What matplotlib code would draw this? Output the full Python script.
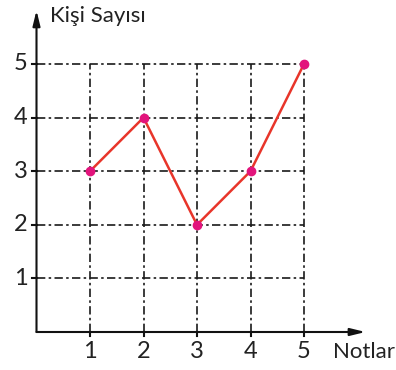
import matplotlib.pyplot as plt

notlar = [1, 2, 3, 4, 5]
kisi_sayisi = [3, 4, 2, 3, 5]
x_ticks = [1, 2, 3, 4, 5]
y_ticks = [1, 2, 3, 4, 5]

plt.rcParams['font.family'] = ['Lato', 'DejaVu Sans']

fig = plt.figure(figsize=(3.96, 3.70), dpi=100)
ax = fig.add_axes([0, 0, 1, 1])
ax.set_xlim(-36.5 / 53.5, (396 - 36.5) / 53.5)
ax.set_ylim((332 - 370) / 53.6, 332 / 53.6)
ax.axis('off')

# kesikli izgara
for v in y_ticks:
    ax.plot([0, 5], [v, v], color='#1a1a1a', lw=1.2, ls=(0, (5, 2, 1.5, 2)), zorder=1)
for v in x_ticks:
    ax.plot([v, v], [0, 5], color='#1a1a1a', lw=1.2, ls=(0, (5, 2, 1.5, 2)), zorder=1)

# eksenler (oklu)
ax.annotate('', xy=(6.15, 0), xytext=(0, 0),
            arrowprops=dict(arrowstyle='-|>,head_length=0.9,head_width=0.22', color='#111111', lw=1.5,
                            shrinkA=0, shrinkB=0))
ax.annotate('', xy=(0, 6.0), xytext=(0, 0),
            arrowprops=dict(arrowstyle='-|>,head_length=0.9,head_width=0.22', color='#111111', lw=1.5,
                            shrinkA=0, shrinkB=0))

# tik cizgileri ve etiketler
for v in x_ticks:
    ax.plot([v, v], [0, -0.08], color='#111111', lw=1.5)
    ax.text(v, -0.17, str(v), ha='center', va='top', fontsize=17, color='#222222')
for v in y_ticks:
    ax.plot([-0.08, 0], [v, v], color='#111111', lw=1.5)
    ax.text(-0.17, v, str(v), ha='right', va='center', fontsize=17, color='#222222')

ax.text(5.54, -0.18, 'Notlar', ha='left', va='top', fontsize=16, color='#222222')
ax.text(0.25, 5.9, 'Kişi Sayısı', ha='left', va='center', fontsize=16, color='#222222')

ax.plot(notlar, kisi_sayisi, color='#e8352a', lw=1.8, zorder=3)
ax.plot(notlar, kisi_sayisi, 'o', color='#e2147c', ms=6, zorder=4)

fig.savefig('out.png', dpi=100)
